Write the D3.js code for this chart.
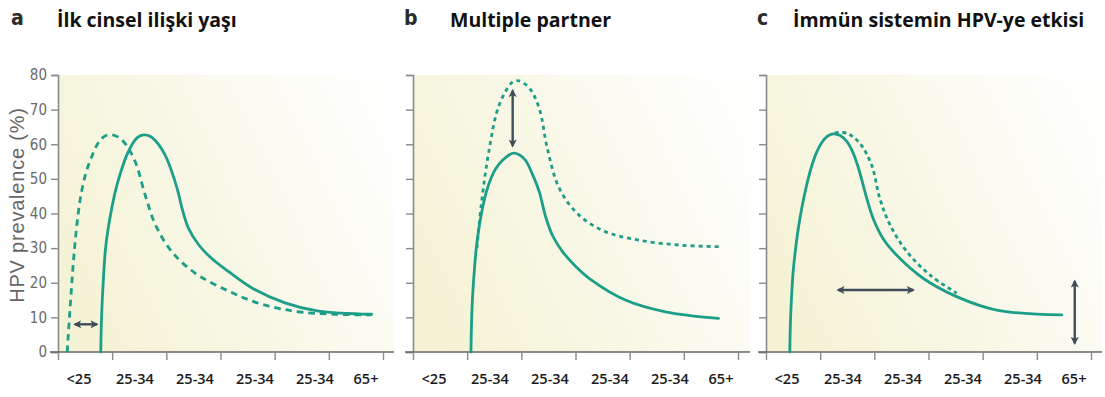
<!DOCTYPE html>
<html><head><meta charset="utf-8">
<script src="https://cdn.jsdelivr.net/npm/d3@7"></script>
<style>body{margin:0;background:#fff;} svg{display:block}</style>
</head><body><svg id="chart" width="1105" height="397"></svg>
<script>
// ---- data ----
const xLabels = ["<25", "25-34", "25-34", "25-34", "25-34", "65+"];
const yTicks = [0, 10, 20, 30, 40, 50, 60, 70, 80];
const panelLetters = ["a", "b", "c"];
const panelTitles = ["İlk cinsel ilişki yaşı", "Multiple partner", "İmmün sistemin HPV-ye etkisi"];
const yAxisTitle = "HPV prevalence (%)";

// [age position in tick units (0..6), prevalence %]
const aSolid = [[0.79,0],[0.80,8],[0.82,16],[0.845,23],[0.875,29.5],[0.92,35],[0.98,40.5],[1.06,46.5],[1.15,51.5],[1.26,56.5],[1.37,60],[1.47,62],[1.58,62.7],[1.70,62.3],[1.80,61],[1.92,58.5],[2.01,55.8],[2.2,47.2],[2.29,41.5],[2.41,35.7],[2.6,30.9],[2.84,27],[3.15,23.2],[3.58,18.5],[4.19,14.2],[4.81,11.8],[5.79,10.9]];
const aDashed = [[0.17,0],[0.19,5],[0.22,12],[0.26,21],[0.30,29],[0.35,37],[0.42,45],[0.52,52],[0.63,56.7],[0.72,59.8],[0.81,61.7],[0.9,62.6],[1.0,62.7],[1.12,62],[1.24,60.2],[1.43,54.8],[1.61,45.3],[1.80,36.7],[2.10,29],[2.53,22.8],[3.15,17.6],[3.76,13.8],[4.56,11.4],[5.79,10.7]];
const bSolid = [[1.07,0],[1.08,8],[1.10,16],[1.13,23],[1.165,29.5],[1.21,35],[1.27,40.5],[1.35,46],[1.44,50.2],[1.53,53],[1.65,55.3],[1.84,57.4],[1.96,57],[2.08,55.3],[2.2,51.5],[2.33,46.3],[2.45,39],[2.58,33.5],[2.76,29],[3.0,24.8],[3.31,20.6],[3.92,15],[4.66,11.6],[5.64,9.7]];
const bDashed = [[1.18,30],[1.26,42.5],[1.41,58.8],[1.59,71.3],[1.84,78],[1.96,78.3],[2.15,76.2],[2.33,70.4],[2.48,58.8],[2.70,47.3],[3.06,39.6],[3.56,34.7],[4.17,32.3],[4.90,30.9],[5.67,30.4]];
const cSolid = [[0.44,0],[0.45,8],[0.47,15.5],[0.50,23],[0.54,29],[0.59,35],[0.66,41.5],[0.74,47.5],[0.84,53.5],[0.93,57.5],[1.03,60.5],[1.13,62.3],[1.24,63],[1.37,62.5],[1.49,60.8],[1.60,57.8],[1.70,53.5],[1.86,44.4],[1.98,38.5],[2.16,32.8],[2.41,28],[2.90,21.3],[3.52,16],[4.26,12.1],[5.46,10.7]];
const cDashed = [[1.27,63.3],[1.49,63.2],[1.73,60.3],[1.95,54],[2.10,44.4],[2.29,36.7],[2.60,29],[3.03,22.2],[3.52,17]];
const aArrows = [[[0.31,8],[0.72,8]]];
const bArrows = [[[1.84,75.5],[1.84,59.5]]];
const cArrows = [[[1.33,17.9],[2.72,17.9]], [[5.70,20.5],[5.70,2.5]]];

const panels = [
  {solid: aSolid, dashed: aDashed, arrows: aArrows, dash: "6.5,5"},
  {solid: bSolid, dashed: bDashed, arrows: bArrows, dash: "4,4"},
  {solid: cSolid, dashed: cDashed, arrows: cArrows, dash: "4,3.5"}
];

// ---- layout ----
const svg = d3.select("#chart");
const axisLeft = [58, 413, 766];
const bgRight = [394, 750, 1102];
const plotW = 325;
const y = d3.scaleLinear().domain([0, 80]).range([352, 75]);
const teal = "#1c9e88";
const arrowCol = "#3e4d58";
const axisCol = "#8a8a8a";

const defs = svg.append("defs");
const grad = defs.append("linearGradient").attr("id", "bg")
  .attr("x1", 0).attr("y1", 0.7).attr("x2", 1).attr("y2", 0.3);
grad.append("stop").attr("offset", "0%").attr("stop-color", "#f5f3d5");
grad.append("stop").attr("offset", "50%").attr("stop-color", "#f9f8e8");
grad.append("stop").attr("offset", "100%").attr("stop-color", "#fefefc");

defs.append("marker").attr("id", "ah").attr("viewBox", "0 0 10 10")
  .attr("refX", 8).attr("refY", 5).attr("markerWidth", 3.4).attr("markerHeight", 3.4)
  .attr("markerUnits", "strokeWidth").attr("orient", "auto-start-reverse")
  .append("path").attr("d", "M0,0 L10,5 L0,10 L2.5,5 Z").attr("fill", arrowCol);

panels.forEach((p, i) => {
  const x0 = axisLeft[i];
  const x = d3.scaleLinear().domain([0, 6]).range([x0, x0 + plotW]);
  const labX = d3.scaleLinear().domain([0, 1, 4, 5]).range([x0 + 21, x0 + 77, x0 + 257, x0 + 308]);
  const g = svg.append("g");

  g.append("rect").attr("x", x0).attr("y", y(80)).attr("width", bgRight[i] - x0)
    .attr("height", y(0) - y(80)).attr("fill", "url(#bg)");

  // y axis
  const ya = d3.axisLeft(y).tickValues(yTicks).tickSize(7).tickPadding(4)
    .tickFormat(i === 0 ? d3.format("d") : () => "");
  const yg = g.append("g").attr("transform", `translate(${x0},0)`).call(ya);
  yg.select(".domain").attr("stroke", axisCol).attr("stroke-width", 1.6);
  yg.selectAll(".tick line").attr("stroke", axisCol).attr("stroke-width", 1.4);
  yg.selectAll(".tick text").attr("fill", "#6a6a6a")
    .style("font-family", "'Liberation Sans Narrow','DejaVu Sans Condensed',sans-serif")
    .style("font-size", "15px");

  // x axis
  const xa = d3.axisBottom(x).tickValues(d3.range(0, 7)).tickSize(8).tickSizeOuter(0).tickFormat(() => "");
  const xg = g.append("g").attr("transform", `translate(0,${y(0)})`).call(xa);
  xg.select(".domain").attr("d", `M${x0 - 8},0H${bgRight[i]}`).attr("stroke", "#666").attr("stroke-width", 1.6);
  xg.selectAll(".tick line").attr("stroke", axisCol).attr("stroke-width", 1.4);
  g.selectAll(".xlab").data(xLabels).join("text")
    .attr("x", (d, k) => labX(k)).attr("y", 384)
    .attr("text-anchor", "middle").attr("fill", "#1a1a1a")
    .style("font-family", "'Open Sans',sans-serif").style("font-weight", 600).style("font-size", "14.5px")
    .text(d => d);

  const line = d3.line().x(d => x(d[0])).y(d => y(d[1])).curve(d3.curveCatmullRom.alpha(0.5));
  g.append("path").attr("d", line(p.dashed)).attr("fill", "none").attr("stroke", teal)
    .attr("stroke-width", 2.8).attr("stroke-dasharray", p.dash);
  g.append("path").attr("d", line(p.solid)).attr("fill", "none").attr("stroke", teal)
    .attr("stroke-width", 2.8).attr("stroke-linecap", "round");

  p.arrows.forEach(a => {
    g.append("line").attr("x1", x(a[0][0])).attr("y1", y(a[0][1]))
      .attr("x2", x(a[1][0])).attr("y2", y(a[1][1]))
      .attr("stroke", arrowCol).attr("stroke-width", 2.4)
      .attr("marker-start", "url(#ah)").attr("marker-end", "url(#ah)");
  });
});

// titles
const letterX = [11, 404, 757];
const titleX = [57, 450, 793];
panelLetters.forEach((l, i) => {
  svg.append("text").attr("x", letterX[i]).attr("y", 25).attr("fill", "#2b2b2b")
    .style("font-family", "'Liberation Sans Narrow','DejaVu Sans Condensed',sans-serif")
    .style("font-weight", "bold").style("font-size", "21px").text(l);
  svg.append("text").attr("x", titleX[i]).attr("y", 27).attr("fill", "#111")
    .style("font-family", "'Open Sans',sans-serif").style("font-weight", "bold").style("font-size", "19.5px")
    .text(panelTitles[i]);
});

svg.append("text").attr("transform", "translate(24,205) rotate(-90)")
  .attr("text-anchor", "middle").attr("fill", "#666")
  .style("font-family", "'Liberation Sans','Noto Sans',sans-serif").style("font-size", "20px")
  .style("letter-spacing", "0.8px")
  .text(yAxisTitle);
</script></body></html>
